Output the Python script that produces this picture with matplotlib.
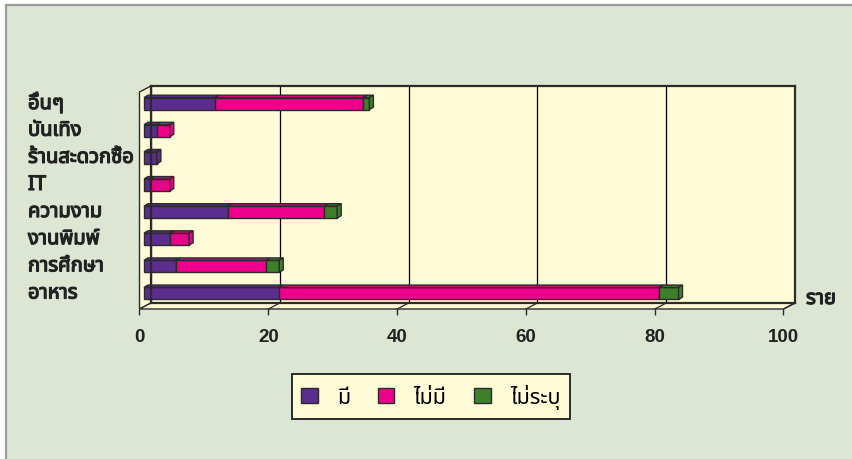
import matplotlib
matplotlib.use('Agg')
import matplotlib.pyplot as plt
from matplotlib import font_manager, ft2font
from matplotlib import patheffects
from matplotlib.patches import Polygon, Rectangle
from matplotlib.transforms import ScaledTranslation, blended_transform_factory

# data, bottom row first
categories = ['อาหาร', 'การศึกษา', 'งานพิมพ์', 'ความงาม', 'IT', 'ร้านสะดวกซื้อ', 'บันเทิง', 'อื่นๆ']
series_names = ['มี', 'ไม่มี', 'ไม่ระบุ']
has = [21, 5, 4, 13, 1, 2, 2, 11]
has_not = [59, 14, 3, 15, 3, 0, 2, 23]
unspecified = [3, 2, 0, 2, 0, 0, 0, 1]
x_ticks = [0, 20, 40, 60, 80, 100]
unit_label = 'ราย'

colors = ['#5b2d8e', '#ec008c', '#3d7f2b']
wall = '#fffbd7'
bg = '#dce6d3'
edge = '#2b2b2b'


def find_thai_font():
    preferred = ['Noto Sans Thai', 'Noto Serif Thai', 'Sarabun', 'Loma', 'Garuda',
                 'Kinnari', 'Norasi', 'Tlwg Typo']
    found = []
    for f in font_manager.fontManager.ttflist:
        try:
            cmap = ft2font.FT2Font(f.fname).get_charmap()
        except Exception:
            continue
        if 0x0E01 in cmap and 0x0E49 in cmap:
            found.append(f.name)
    for name in preferred:
        if name in found:
            return name
    return found[0] if found else 'DejaVu Sans'


thai = find_thai_font()
plt.rcParams['font.family'] = [thai, 'DejaVu Sans']
heavy = [patheffects.withStroke(linewidth=0.9, foreground='#222222')]

W, H = 853, 460
def fx(px):
    return px / W
def fy(py):
    return 1 - py / H

fig = plt.figure(figsize=(W / 100, H / 100), dpi=100)
fig.patch.set_facecolor('white')
fig.add_artist(Rectangle((fx(6), -0.1), 1.1, fy(6) + 0.1, transform=fig.transFigure,
                         facecolor=bg, edgecolor='#9a9a9a', lw=1.6, zorder=-5))

# back wall of the 3d box
left_px, right_px, top_px, bottom_px = 151, 795, 87, 304
ax = fig.add_axes([fx(left_px), fy(bottom_px), (right_px - left_px) / W, (bottom_px - top_px) / H])
ax.set_xlim(0, 100)
ax.set_ylim(-0.5, len(categories) - 0.5)
ax.set_facecolor(wall)
ax.set_axisbelow(True)
ax.set_xticks(x_ticks)
ax.set_yticks([])
ax.xaxis.grid(True, color='black', lw=0.9)
ax.tick_params(length=0, labelbottom=False)
for s in ax.spines.values():
    s.set_color(edge)
    s.set_linewidth(1.6)

sx = (right_px - left_px) / 100.0
sy = (bottom_px - top_px) / float(len(categories))
ylo, yhi = -0.5, len(categories) - 0.5

# left wall and floor
dx, dy = -11.5 / sx, -6.0 / sy
ax.add_patch(Polygon([(0, ylo), (0, yhi), (dx, yhi + dy), (dx, ylo + dy)],
                     facecolor=wall, edgecolor=edge, lw=1.0, clip_on=False, zorder=0.6))
ax.add_patch(Polygon([(0, ylo), (100, ylo), (100 + dx, ylo + dy), (dx, ylo + dy)],
                     facecolor=wall, edgecolor=edge, lw=1.0, clip_on=False, zorder=0.6))
for v in x_ticks[1:]:
    ax.plot([v, v + dx], [ylo, ylo + dy], color=edge, lw=0.9, clip_on=False, zorder=0.7)

# front axis carrying the ticks
fax = fig.add_axes([fx(left_px - 11.5), fy(bottom_px + 6), (right_px - left_px) / W, 0.001])
fax.set_xlim(0, 100)
fax.set_xticks(x_ticks)
fax.set_yticks([])
fax.patch.set_visible(False)
for s in fax.spines.values():
    s.set_visible(False)
fax.tick_params(axis='x', length=4.5, width=1, color=edge, pad=9.5, labelsize=13.5)
for lab in fax.get_xticklabels():
    lab.set_fontfamily('Liberation Sans')
    lab.set_fontweight('bold')
    lab.set_color('#222222')

# bars, drawn in a plane a little in front of the back wall
bar_tr = ax.transData + ScaledTranslation(-7 / 100, -4 / 100, fig.dpi_scale_trans)
bh = 0.44
bdx, bdy = 4.0 / sx, 2.4 / sy
ypos = list(range(len(categories)))
series = [has, has_not, unspecified]
handles = []
lefts = [0] * len(categories)
for vals, col in zip(series, colors):
    bars = ax.barh(ypos, vals, left=lefts, height=bh, color=col, edgecolor=edge,
                   lw=1.0, transform=bar_tr, clip_on=False, zorder=2)
    handles.append(bars[0])
    for y, l, w in zip(ypos, lefts, vals):
        if w <= 0:
            continue
        t = y + bh / 2
        ax.add_patch(Polygon([(l, t), (l + w, t), (l + w + bdx, t + bdy), (l + bdx, t + bdy)],
                             facecolor=col, edgecolor=edge, lw=1.0, transform=bar_tr,
                             clip_on=False, zorder=2))
    lefts = [l + w for l, w in zip(lefts, vals)]

# side face at the right end of each bar
for y in ypos:
    r = lefts[y]
    col = colors[0]
    for vals, c in zip(series, colors):
        if vals[y] > 0:
            col = c
    b, t = y - bh / 2, y + bh / 2
    ax.add_patch(Polygon([(r, b), (r, t), (r + bdx, t + bdy), (r + bdx, b + bdy)],
                         facecolor=col, edgecolor=edge, lw=1.0, transform=bar_tr,
                         clip_on=False, zorder=2))

# category labels
lab_tr = blended_transform_factory(fig.transFigure, bar_tr)
for y, name in zip(ypos, categories):
    fig.text(fx(28), y, name, transform=lab_tr, ha='left', va='center',
             fontsize=14.5, color='#222222', path_effects=heavy)

fig.text(fx(806), fy(300), unit_label, ha='left', va='center', fontsize=14.5,
         color='#222222', path_effects=heavy)

leg = ax.legend(handles, series_names, loc='center', bbox_to_anchor=(fx(431), fy(397.5)),
                bbox_transform=fig.transFigure, ncol=3, frameon=True, fancybox=False,
                framealpha=1, facecolor=wall, edgecolor=edge, handlelength=0.75,
                handleheight=0.75, handletextpad=0.9, columnspacing=1.3, borderpad=0.45,
                prop={'size': 15.5})
leg.get_frame().set_linewidth(1.4)

fig.savefig('out.png', dpi=100, facecolor=fig.get_facecolor())
